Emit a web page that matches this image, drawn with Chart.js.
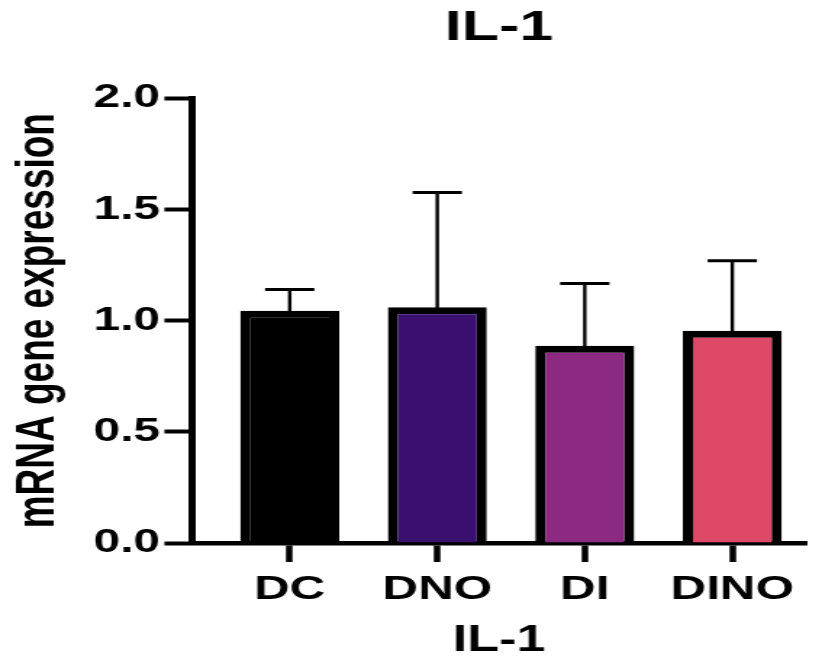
<!DOCTYPE html>
<html>
<head>
<meta charset="utf-8">
<script src="https://cdn.jsdelivr.net/npm/chart.js@4.4.1/dist/chart.umd.min.js"></script>
<style>
    html, body { margin: 0; padding: 0; background: #fff; overflow: hidden; }
    /* the reference is stretched sideways, so the chart is drawn narrow and widened */
    #wrap { width: 567px; height: 656px; transform: scaleX(1.4497); transform-origin: 0 0; }
</style>
</head>
<body>
<div id="wrap"><canvas id="il1Chart"></canvas></div>
<script>
// Data
const groups = ['DC', 'DNO', 'DI', 'DINO'];
const meanValues = [1.045, 1.06, 0.887, 0.955];
const sdValues = [0.095, 0.517, 0.28, 0.315];
const barColors = ['#000000', '#3b0f70', '#8c2981', '#de4968'];
const yTicks = [0, 0.5, 1.0, 1.5, 2.0];

const fontFamily = "'Liberation Sans', Arial, sans-serif";

// Error bars (only the upper half, like the original)
const errorBars = {
    id: 'errorBars',
    beforeDatasetsDraw(chart) {
        const ctx = chart.ctx;
        const yScale = chart.scales.y;
        const meta = chart.getDatasetMeta(0);
        ctx.save();
        ctx.strokeStyle = '#000';
        meta.data.forEach((bar, i) => {
            const yTop = yScale.getPixelForValue(meanValues[i] + sdValues[i]);
            ctx.lineWidth = 2.4;
            ctx.beginPath();
            ctx.moveTo(bar.x, bar.y + 4);
            ctx.lineTo(bar.x, yTop);
            ctx.stroke();
            ctx.lineWidth = 3;
            ctx.beginPath();
            ctx.moveTo(bar.x - 17, yTop);
            ctx.lineTo(bar.x + 17, yTop);
            ctx.stroke();
        });
        ctx.restore();
    }
};

const ctx = document.getElementById('il1Chart').getContext('2d');
new Chart(ctx, {
    type: 'bar',
    data: {
        datasets: [{
            data: groups.map((g, i) => ({ x: i, y: meanValues[i] })),
            backgroundColor: barColors,
            borderColor: '#000',
            borderWidth: { top: 7, left: 7, right: 7, bottom: 0 },
            borderSkipped: false,
            categoryPercentage: 1,
            barPercentage: 0.671
        }]
    },
    options: {
        responsive: true,
        maintainAspectRatio: false,
        animation: false,
        layout: { padding: { left: 0, right: 11, top: 0, bottom: 0 } },
        plugins: {
            legend: { display: false },
            tooltip: { enabled: false },
            title: {
                display: true,
                text: 'IL-1',
                fullSize: false,
                color: '#000',
                font: { family: fontFamily, size: 42, weight: 'bold' },
                padding: { top: 3, bottom: 45 }
            }
        },
        scales: {
            x: {
                type: 'linear',
                min: -0.663,
                max: 3.5,
                offset: false,
                afterBuildTicks: axis => { axis.ticks = groups.map((g, i) => ({ value: i })); },
                afterFit: axis => { axis.height = 113; },
                grid: { display: true, offset: false, drawOnChartArea: false, tickLength: 19, tickWidth: 4.5, color: '#000' },
                border: { display: true, width: 4.5, color: '#000' },
                ticks: {
                    color: '#000',
                    padding: 7,
                    maxRotation: 0,
                    font: { family: fontFamily, size: 34, weight: 'bold' },
                    callback: v => groups[Math.round(v)]
                },
                title: {
                    display: true,
                    text: 'IL-1',
                    color: '#000',
                    font: { family: fontFamily, size: 36, weight: 'bold', lineHeight: 0.85 },
                    padding: { top: 0, bottom: 0 }
                }
            },
            y: {
                min: 0,
                max: 2,
                afterBuildTicks: axis => { axis.ticks = yTicks.map(v => ({ value: v })); },
                afterFit: axis => { axis.width = 132.4; },
                grid: { display: true, drawOnChartArea: false, tickLength: 19, tickWidth: 4, color: '#000' },
                border: { display: true, width: 5, color: '#000' },
                ticks: {
                    color: '#000',
                    padding: 3,
                    font: { family: fontFamily, size: 33, weight: 'bold' },
                    callback: v => v.toFixed(1)
                },
                title: {
                    display: true,
                    text: 'mRNA gene expression',
                    color: '#000',
                    font: { family: fontFamily, size: 37, weight: 'bold' },
                    padding: { top: 5, bottom: 0 }
                }
            }
        }
    },
    plugins: [errorBars]
});
</script>
</body>
</html>
